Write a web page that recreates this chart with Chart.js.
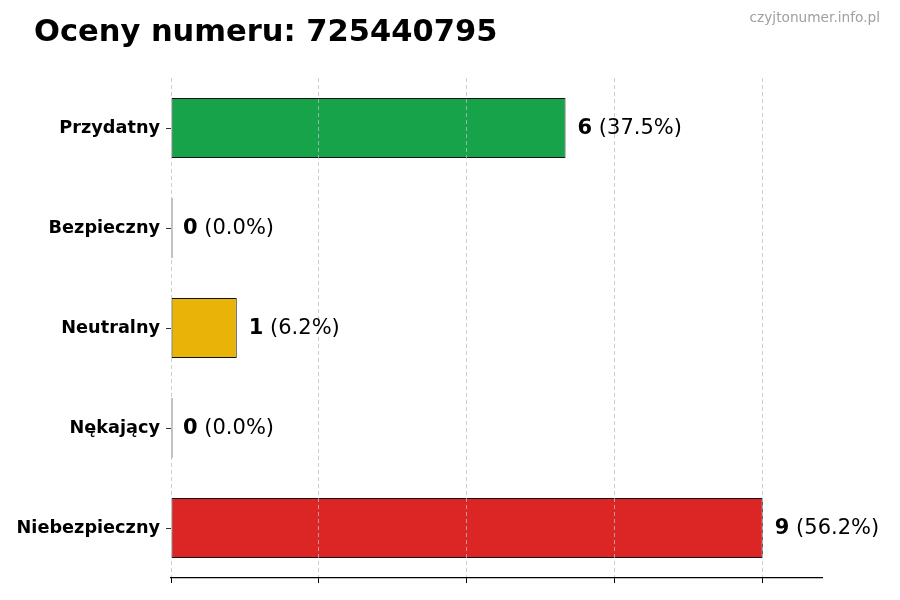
<!DOCTYPE html>
<html lang="pl">
<head>
  <meta charset="UTF-8">
  <title>Oceny numeru</title>
  <script src="https://cdn.jsdelivr.net/npm/chart.js"></script>
  <style>
    html, body { margin: 0; padding: 0; background: #fff; }
    #wrap { width: 900px; height: 600px; }
  </style>
</head>
<body>
  <div id="wrap"><canvas id="ratingsChart" width="900" height="600"></canvas></div>

  <script>
    const categories = ['Przydatny', 'Bezpieczny', 'Neutralny', 'Nękający', 'Niebezpieczny'];
    const counts = [6, 0, 1, 0, 9];
    const percents = ['37.5%', '0.0%', '6.2%', '0.0%', '56.2%'];
    const barColors = ['#16a34a', '#2563eb', '#eab308', '#9333ea', '#dc2626'];
    const xTicks = [0, 2.25, 4.5, 6.75, 9];
    const xMax = 9.9;

    const titleText = 'Oceny numeru: 725440795';
    const watermark = 'czyjtonumer.info.pl';

    // title, watermark and the value labels next to each bar
    const labelPlugin = {
      id: 'labelPlugin',
      afterDraw(chart) {
        const ctx = chart.ctx;
        ctx.save();
        ctx.fillStyle = '#000';
        ctx.font = 'bold 30.5px "DejaVu Sans"';
        ctx.textAlign = 'left';
        ctx.textBaseline = 'alphabetic';
        ctx.fillText(titleText, 34, 41);

        ctx.fillStyle = '#a0a0a0';
        ctx.font = '13.7px "DejaVu Sans"';
        ctx.textAlign = 'right';
        ctx.fillText(watermark, 880, 22);

        const meta = chart.getDatasetMeta(0);
        const xScale = chart.scales.x;
        ctx.textAlign = 'left';
        ctx.textBaseline = 'middle';
        meta.data.forEach((bar, i) => {
          let x = xScale.getPixelForValue(counts[i]) + 12;
          const y = bar.y + 1;
          ctx.fillStyle = '#000';
          ctx.font = 'bold 21px "DejaVu Sans"';
          const num = String(counts[i]);
          ctx.fillText(num, x, y);
          x += ctx.measureText(num).width;
          ctx.font = '21px "DejaVu Sans"';
          ctx.fillText(' (' + percents[i] + ')', x, y);
        });
        ctx.restore();
      }
    };

    const config = {
      type: 'bar',
      data: {
        labels: categories,
        datasets: [{
          data: counts,
          backgroundColor: barColors,
          borderColor: '#111',
          borderWidth: 1,
          borderSkipped: false,
          minBarLength: 1.5,
          barPercentage: 0.6,
          categoryPercentage: 1.0
        }]
      },
      options: {
        indexAxis: 'y',
        responsive: false,
        animation: false,
        layout: { padding: { top: 78, right: 78, left: 0, bottom: 0 } },
        plugins: {
          legend: { display: false },
          tooltip: { enabled: false },
          title: { display: false }
        },
        scales: {
          x: {
            min: 0,
            max: xMax,
            afterBuildTicks(scale) {
              scale.ticks = xTicks.map(v => ({ value: v }));
            },
            afterFit(scale) { scale.height = 22; },
            grid: {
              display: true,
              drawOnChartArea: true,
              color: 'rgba(190,190,190,0.75)',
              lineWidth: 1,
              drawTicks: true,
              tickLength: 5,
              tickColor: '#000',
              tickBorderDash: [],
              z: 1
            },
            border: { display: true, color: '#000', width: 1.2, dash: [4, 3], z: 2 },
            ticks: { color: 'rgba(0,0,0,0)', font: { size: 1 } }
          },
          y: {
            afterFit(scale) { scale.width = 171; },
            grid: {
              offset: false,
              drawOnChartArea: false,
              drawTicks: true,
              tickLength: 5,
              tickColor: '#333'
            },
            border: { display: false },
            ticks: {
              color: '#000',
              padding: 6,
              font: { family: '"DejaVu Sans"', size: 17.7, weight: 'bold' }
            }
          }
        }
      },
      plugins: [labelPlugin]
    };

    const ctx = document.getElementById('ratingsChart').getContext('2d');
    new Chart(ctx, config);
  </script>
</body>
</html>
